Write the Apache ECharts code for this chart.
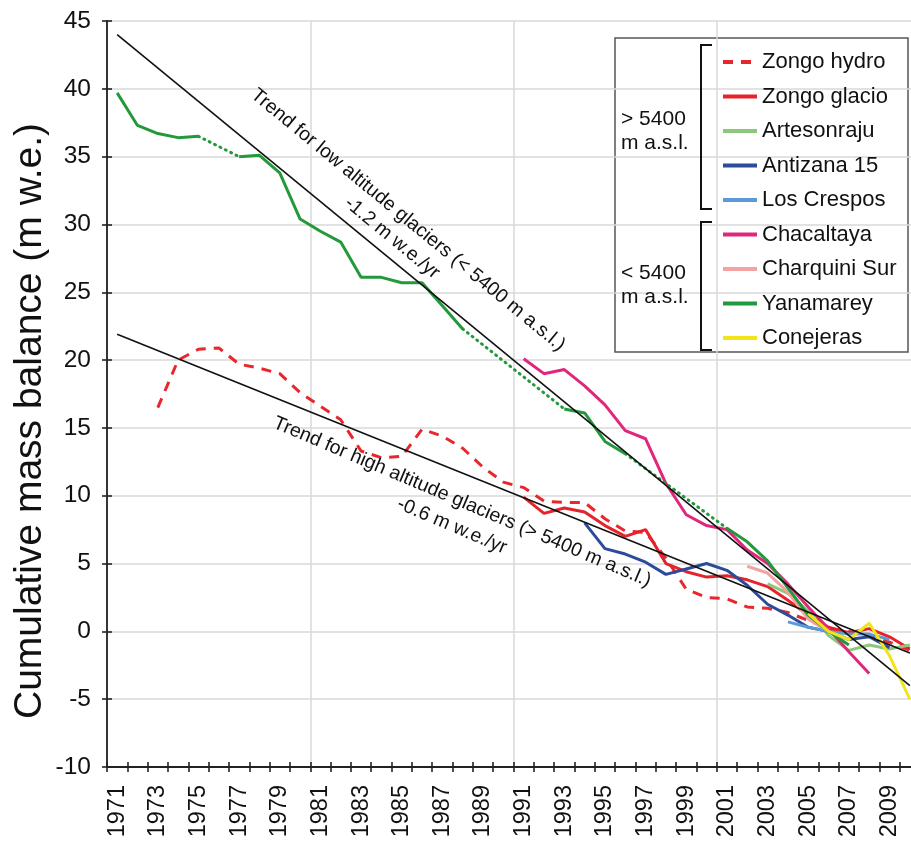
<!DOCTYPE html>
<html>
<head>
<meta charset="utf-8">
<script src="https://cdn.jsdelivr.net/npm/echarts@6/dist/echarts.min.js"></script>
<style>
  html, body { margin: 0; padding: 0; background: #fff; }
  #chart { width: 911px; height: 844px; }
</style>
</head>
<body>
<div id="chart"></div>
<script>
var years = [];
for (var y = 1971; y <= 2010; y++) years.push(String(y));

// cumulative mass balance (m w.e.)
var zongoHydroYears = [1973, 1974, 1975, 1976, 1977, 1978, 1979, 1980, 1981, 1982, 1983, 1984, 1985, 1986, 1987, 1988, 1989, 1990, 1991, 1992, 1993, 1994, 1995, 1996, 1997, 1998, 1999, 2000, 2001, 2002, 2003, 2004, 2005, 2006, 2007, 2008, 2009, 2010];
var zongoHydro = [16.5, 20.0, 20.8, 20.9, 19.7, 19.4, 19.0, 17.6, 16.6, 15.6, 13.3, 12.8, 12.9, 14.9, 14.4, 13.5, 12.1, 11.0, 10.6, 9.6, 9.5, 9.5, 8.3, 7.4, 7.3, 5.4, 3.1, 2.5, 2.4, 1.8, 1.7, 1.4, 0.8, 0.2, 0.0, -0.3, -0.8, -1.4];

var zongoGlacioYears = [1991, 1992, 1993, 1994, 1995, 1996, 1997, 1998, 1999, 2000, 2001, 2002, 2003, 2004, 2005, 2006, 2007, 2008, 2009, 2010];
var zongoGlacio = [9.9, 8.7, 9.1, 8.8, 7.8, 7.0, 7.5, 5.0, 4.4, 4.0, 4.1, 3.8, 3.3, 2.3, 1.2, 0.3, -0.1, 0.2, -0.4, -1.3];

var artesonrajuYears = [2003, 2004, 2005, 2006, 2007, 2008, 2009, 2010];
var artesonraju = [3.5, 2.8, 1.5, -0.3, -1.4, -1.0, -1.3, -1.0];

var antizanaYears = [1994, 1995, 1996, 1997, 1998, 1999, 2000, 2001, 2002, 2003, 2004, 2005, 2006, 2007, 2008, 2009];
var antizana = [8.0, 6.1, 5.7, 5.1, 4.2, 4.6, 5.0, 4.5, 3.4, 2.0, 1.2, 0.3, 0.0, -0.6, -0.4, -1.2];

var crespoYears = [2004, 2005, 2006, 2007, 2008, 2009];
var crespos = [0.7, 0.3, 0.0, -0.2, -0.2, -0.6];

var chacaltayaYears = [1991, 1992, 1993, 1994, 1995, 1996, 1997, 1998, 1999, 2000, 2001, 2002, 2003, 2004, 2005, 2006, 2007, 2008];
var chacaltaya = [20.1, 19.0, 19.3, 18.1, 16.7, 14.8, 14.2, 10.9, 8.6, 7.8, 7.5, 6.0, 5.0, 3.5, 1.8, 0.2, -1.5, -3.1];

var charquiniYears = [2002, 2003, 2004, 2005, 2006];
var charquini = [4.8, 4.3, 2.9, 0.9, 0.0];

var yanamareyYears = [1971, 1972, 1973, 1974, 1975, 1977, 1978, 1979, 1980, 1981, 1982, 1983, 1984, 1985, 1986, 1987, 1988, 1993, 1994, 1995, 1996, 2001, 2002, 2003, 2004, 2005, 2006, 2007];
var yanamarey = [39.7, 37.3, 36.7, 36.4, 36.5, 35.0, 35.1, 33.8, 30.4, 29.5, 28.7, 26.1, 26.1, 25.7, 25.7, 24.0, 22.3, 16.4, 16.1, 14.0, 13.1, 7.6, 6.6, 5.2, 3.2, 1.2, 0.0, -1.0];
// spans without measurements, drawn dotted between the measured ends
var yanamareyGaps = [[1975, 1977], [1988, 1993], [1996, 2001]];

var conejerasYears = [2005, 2006, 2007, 2008, 2009, 2010];
var conejeras = [1.3, 0.0, -0.6, 0.6, -1.8, -5.0];

var lowTrendYears = [1971, 2010];
var lowTrend = [44.0, -4.0];
var highTrendYears = [1971, 2010];
var highTrend = [21.9, -1.6];

var yMin = -10, yMax = 45, yStep = 5;

var colors = {
  zongoHydro: '#e8262c',
  zongoGlacio: '#e5232a',
  artesonraju: '#8dc77b',
  antizana: '#2c4b9b',
  crespos: '#5b9ad6',
  chacaltaya: '#e0277b',
  charquini: '#f4a2a2',
  yanamarey: '#23993b',
  conejeras: '#f3e41a'
};

function pairs(ys, vals) {
  return ys.map(function (yr, i) { return [String(yr), vals[i]]; });
}

function lineSeries(name, ys, vals, color, type) {
  return {
    name: name,
    type: 'line',
    data: pairs(ys, vals),
    symbol: 'none',
    lineStyle: { color: color, width: 3, type: type || 'solid' },
    itemStyle: { color: color },
    silent: true,
    animation: false
  };
}

var series = [];
series.push(lineSeries('Zongo hydro', zongoHydroYears, zongoHydro, colors.zongoHydro, [10, 8]));
series.push(lineSeries('Zongo glacio', zongoGlacioYears, zongoGlacio, colors.zongoGlacio));
series.push(lineSeries('Artesonraju', artesonrajuYears, artesonraju, colors.artesonraju));
series.push(lineSeries('Antizana 15', antizanaYears, antizana, colors.antizana));
series.push(lineSeries('Los Crespos', crespoYears, crespos, colors.crespos));
series.push(lineSeries('Chacaltaya', chacaltayaYears, chacaltaya, colors.chacaltaya));
series.push(lineSeries('Charquini Sur', charquiniYears, charquini, colors.charquini));

// Yanamarey: one value per year, null where not measured -> solid line breaks at gaps
var yanaFull = years.map(function (yr) {
  var i = yanamareyYears.indexOf(+yr);
  return i < 0 ? null : yanamarey[i];
});
series.push({
  name: 'Yanamarey', type: 'line', data: yanaFull, connectNulls: false,
  symbol: 'none', silent: true, animation: false,
  lineStyle: { color: colors.yanamarey, width: 3 },
  itemStyle: { color: colors.yanamarey }
});
yanamareyGaps.forEach(function (g, k) {
  var a = yanamareyYears.indexOf(g[0]), b = yanamareyYears.indexOf(g[1]);
  series.push({
    name: 'Yanamarey gap ' + k, type: 'line',
    data: [[String(g[0]), yanamarey[a]], [String(g[1]), yanamarey[b]]],
    symbol: 'none', silent: true, animation: false,
    lineStyle: { color: colors.yanamarey, width: 3, type: [1, 5], cap: 'round' }
  });
});

series.push(lineSeries('Conejeras', conejerasYears, conejeras, colors.conejeras));

series.push({
  name: 'low trend', type: 'line', data: pairs(lowTrendYears, lowTrend),
  symbol: 'none', silent: true, animation: false, z: 3,
  lineStyle: { color: '#111', width: 1.6 }
});
series.push({
  name: 'high trend', type: 'line', data: pairs(highTrendYears, highTrend),
  symbol: 'none', silent: true, animation: false, z: 3,
  lineStyle: { color: '#111', width: 1.6 }
});

var chart = echarts.init(document.getElementById('chart'), null, { renderer: 'canvas' });
var font = '"Liberation Sans", Arial, sans-serif';

function deg(a) { return a * Math.PI / 180; }

var tickStyle = { color: '#222', width: 1.6 };

chart.setOption({
  animation: false,
  textStyle: { fontFamily: font },
  grid: { left: 107, right: -9, top: 21, bottom: 77, outerBoundsMode: 'none' },
  xAxis: [{
    type: 'category',
    data: years,
    boundaryGap: true,
    axisLine: { onZero: false, lineStyle: { color: '#222', width: 1.8 } },
    axisTick: { show: true, interval: 0, length: 5, lineStyle: tickStyle },
    axisLabel: { interval: 1, rotate: 90, fontSize: 23.5, color: '#111', margin: 18, fontFamily: font },
    splitLine: {
      show: true,
      interval: function (i) { return i % 10 === 0; },
      lineStyle: { color: '#d9d9d9', width: 1.5 }
    }
  }, {
    type: 'category',
    data: years,
    position: 'bottom',
    boundaryGap: true,
    axisLine: { show: false, onZero: false },
    axisTick: { show: true, inside: true, interval: 0, length: 5, lineStyle: tickStyle },
    axisLabel: { show: false },
    splitLine: { show: false }
  }],
  yAxis: [{
    type: 'value',
    min: yMin, max: yMax, interval: yStep,
    axisLine: { show: true, lineStyle: { color: '#222', width: 1.8 } },
    axisTick: { show: true, length: 5, lineStyle: tickStyle },
    axisLabel: { fontSize: 24.5, color: '#111', margin: 16, fontFamily: font },
    splitLine: { lineStyle: { color: '#d9d9d9', width: 1.5 } }
  }, {
    type: 'value',
    min: yMin, max: yMax, interval: yStep,
    position: 'left',
    axisLine: { show: false },
    axisTick: { show: true, inside: true, length: 5, lineStyle: tickStyle },
    axisLabel: { show: false },
    splitLine: { show: false }
  }],
  legend: {
    data: ['Zongo hydro', 'Zongo glacio', 'Artesonraju', 'Antizana 15', 'Los Crespos',
           'Chacaltaya', 'Charquini Sur', 'Yanamarey', 'Conejeras'],
    orient: 'vertical',
    left: 721, top: 51,
    padding: 0,
    itemWidth: 34, itemHeight: 14, itemGap: 12.5,
    selectedMode: false,
    itemStyle: { opacity: 0 },
    lineStyle: { width: 4 },
    textStyle: { fontSize: 22, lineHeight: 21, color: '#111', fontFamily: font }
  },
  graphic: [
    { type: 'text', x: 30, y: 421, rotation: deg(90), z: 5,
      style: { text: 'Cumulative mass balance (m w.e.)', font: '39px ' + font,
               fill: '#111', align: 'center', verticalAlign: 'middle' } },
    { type: 'rect', shape: { x: 615, y: 38, width: 293, height: 314 }, z: 0,
      style: { fill: '#fff', stroke: '#555', lineWidth: 1.5 } },
    { type: 'polyline', shape: { points: [[712, 45], [701, 45], [701, 209], [712, 209]] }, z: 5,
      style: { stroke: '#111', lineWidth: 2, fill: null } },
    { type: 'polyline', shape: { points: [[712, 222], [701, 222], [701, 350], [712, 350]] }, z: 5,
      style: { stroke: '#111', lineWidth: 2, fill: null } },
    { type: 'text', x: 621, y: 131, z: 5,
      style: { text: '> 5400\nm a.s.l.', font: '21px ' + font, fill: '#111', lineHeight: 24, verticalAlign: 'middle' } },
    { type: 'text', x: 621, y: 285, z: 5,
      style: { text: '< 5400\nm a.s.l.', font: '21px ' + font, fill: '#111', lineHeight: 24, verticalAlign: 'middle' } },
    { type: 'text', x: 408, y: 220, rotation: deg(-39.5), z: 5,
      style: { text: 'Trend for low altitude glaciers (< 5400 m a.s.l.)', font: '19.5px ' + font,
               fill: '#111', align: 'center', verticalAlign: 'middle' } },
    { type: 'text', x: 392, y: 238, rotation: deg(-39.5), z: 5,
      style: { text: '-1.2 m w.e./yr', font: '19.5px ' + font,
               fill: '#111', align: 'center', verticalAlign: 'middle' } },
    { type: 'text', x: 462, y: 502, rotation: deg(-23), z: 5,
      style: { text: 'Trend for high altitude glaciers (> 5400 m a.s.l.)', font: '19.5px ' + font,
               fill: '#111', align: 'center', verticalAlign: 'middle' } },
    { type: 'text', x: 452, y: 526, rotation: deg(-23), z: 5,
      style: { text: '-0.6 m w.e./yr', font: '19.5px ' + font,
               fill: '#111', align: 'center', verticalAlign: 'middle' } }
  ],
  series: series
});
</script>
</body>
</html>
